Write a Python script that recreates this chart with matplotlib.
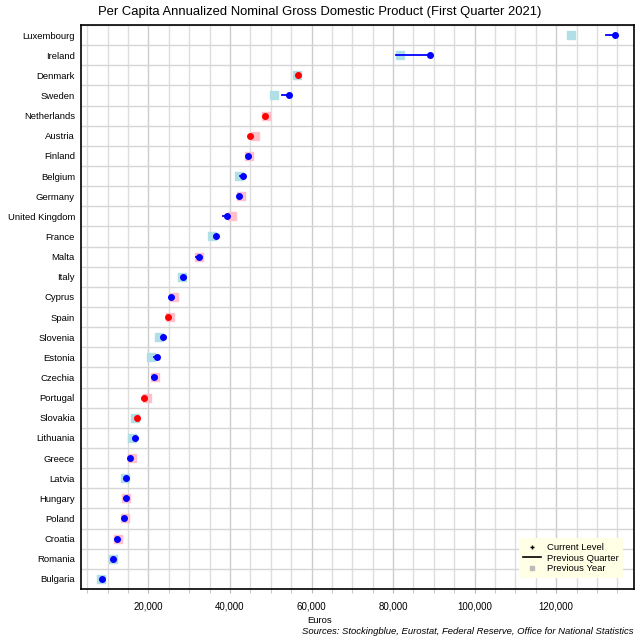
import matplotlib
matplotlib.use("Agg")
import matplotlib.pyplot as plt
from matplotlib.ticker import MultipleLocator, FuncFormatter
from matplotlib.lines import Line2D

plt.rcParams["font.family"] = ["Liberation Sans", "DejaVu Sans"]

# ── Data (thousands of euros) ──────────────────────────────
countries = [
    "Luxembourg", "Ireland", "Denmark", "Sweden", "Netherlands", "Austria",
    "Finland", "Belgium", "Germany", "United Kingdom", "France", "Malta",
    "Italy", "Cyprus", "Spain", "Slovenia", "Estonia", "Czechia", "Portugal",
    "Slovakia", "Lithuania", "Greece", "Latvia", "Hungary", "Poland",
    "Croatia", "Romania", "Bulgaria",
]
current = [
    134.4, 89.0, 56.8, 54.6, 48.7, 45.0, 44.5, 43.1, 42.3, 39.4, 36.7, 32.3,
    28.6, 25.6, 24.7, 23.7, 22.0, 21.5, 19.0, 17.1, 16.7, 15.4, 14.6, 14.4,
    14.1, 12.4, 11.4, 8.7,
]
prev_quarter = [
    132.1, 80.8, 57.0, 52.7, 49.0, 45.3, 44.3, 42.5, 42.1, 38.2, 36.5, 31.6,
    28.4, 25.4, 24.9, 23.3, 21.4, 21.0, 19.2, 17.3, 16.5, 15.3, 14.5, 14.3,
    14.0, 12.3, 11.3, 8.6,
]
prev_year = [
    123.7, 81.6, 56.5, 50.7, 48.8, 46.2, 44.7, 42.3, 42.6, 40.6, 35.6, 32.5,
    28.2, 26.3, 25.3, 22.6, 20.6, 21.7, 19.7, 16.8, 16.1, 15.9, 14.2, 14.5,
    14.3, 12.5, 11.3, 8.3,
]

FS = 6.8

fig = plt.figure(figsize=(6.4, 6.4), dpi=100)
ax = fig.add_axes([0.1258, 0.0797, 0.8656, 0.8813])

n = len(countries)
for i, name in enumerate(countries):
    y = i
    cur = current[i] * 1000
    pq = prev_quarter[i] * 1000
    py = prev_year[i] * 1000
    sq_col = "#b0dfe6" if cur >= py else "#ffc0cb"
    dot_col = "#0000ff" if cur >= pq else "#ff0000"
    ax.plot(py, y, marker="s", ms=5.5, color=sq_col, ls="none", zorder=3)
    ax.plot([pq, cur], [y, y], color=dot_col, lw=1.3, zorder=4)
    ax.plot(cur, y, marker="o", ms=4.0, color=dot_col, ls="none", zorder=5)

ax.set_ylim(n - 0.5, -0.5)
ax.set_yticks(range(n))
ax.set_yticklabels(countries, fontsize=FS)
ax.set_yticks([k + 0.5 for k in range(-1, n)], minor=True)
ax.tick_params(axis="y", which="both", length=0, pad=4)

ax.set_xlim(3360, 139200)
ax.xaxis.set_major_locator(MultipleLocator(20000))
ax.xaxis.set_minor_locator(MultipleLocator(5000))
ax.xaxis.set_major_formatter(FuncFormatter(lambda v, p: f"{int(v):,}"))
ax.tick_params(axis="x", which="both", length=3, color="#bbbbbb",
               labelsize=7.0, pad=6)

ax.grid(True, axis="x", which="major", color="#cccccc", lw=1)
ax.grid(True, axis="x", which="minor", color="#dddddd", lw=1)
ax.grid(True, axis="y", which="minor", color="#d6d6d6", lw=1)
ax.grid(False, axis="y", which="major")
ax.set_axisbelow(True)
for s in ax.spines.values():
    s.set_linewidth(1.2)
    s.set_color("black")

handles = [
    Line2D([], [], marker="+", ms=3, color="black", ls="none"),
    Line2D([], [], color="black", lw=1.2),
    Line2D([], [], marker="s", ms=3, color="#bbbbbb", ls="none"),
]
leg = ax.legend(handles, ["Current Level", "Previous Quarter", "Previous Year"],
                loc="lower right", bbox_to_anchor=(0.980, 0.02),
                borderaxespad=0, fontsize=FS, frameon=True,
                facecolor="#ffffe6", edgecolor="none", framealpha=1,
                handlelength=1.9, labelspacing=0.15, handletextpad=0.6,
                borderpad=0.5)
leg.get_frame().set_boxstyle("square", pad=0)

fig.text(0.5, 0.981, "Per Capita Annualized Nominal Gross Domestic Product (First Quarter 2021)",
         ha="center", va="center", fontsize=9.4)
fig.text(0.5, 0.030, "Euros", ha="center", va="center", fontsize=FS)
fig.text(0.99, 0.014,
         "Sources: Stockingblue, Eurostat, Federal Reserve, Office for National Statistics",
         ha="right", va="center", fontsize=FS, style="italic")

fig.savefig("out.png", dpi=100)
